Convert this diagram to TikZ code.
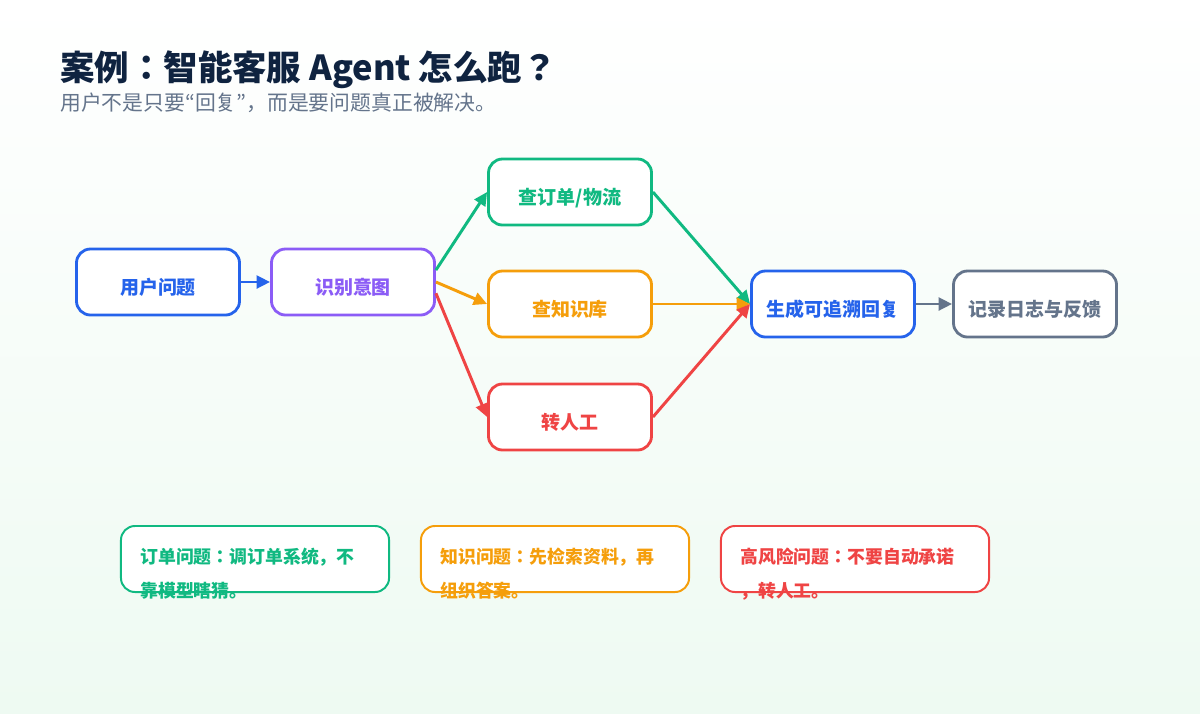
\documentclass[tikz,border=0pt]{standalone}
\usepackage{fontspec}
\setmainfont{Noto Sans CJK JP}
\usetikzlibrary{shapes,arrows.meta,positioning}

\definecolor{titlenavy}{HTML}{0F2340}
\definecolor{subgray}{HTML}{64748B}
\definecolor{flowblue}{HTML}{2563EB}
\definecolor{flowpurple}{HTML}{8B5CF6}
\definecolor{flowgreen}{HTML}{10B981}
\definecolor{floworange}{HTML}{F59E0B}
\definecolor{flowred}{HTML}{EF4444}
\definecolor{flowgray}{HTML}{64748B}
\definecolor{bgbottom}{HTML}{EEFAF2}

\begin{document}
\begin{tikzpicture}[x=0.025cm, y=-0.025cm,
  flowbox/.style={rectangle, draw=#1, text=#1, fill=white, line width=2pt,
    rounded corners=0.35cm, minimum width=4.075cm, minimum height=1.65cm,
    text height=17.6pt, text depth=0pt,
    font=\fontsize{13.5}{16}\selectfont\bfseries},
  notebox/.style={rectangle, draw=#1, fill=white, line width=1.4pt,
    rounded corners=0.35cm, minimum width=6.7cm, minimum height=1.65cm},
  notetext/.style={text=#1, anchor=north west, inner sep=0pt, align=left,
    font=\fontsize{12.7}{24}\selectfont\bfseries},
  flow/.style={draw=#1, line width=2.1pt, -{Triangle[length=9.5pt,width=9pt]}}]
\useasboundingbox (0,0) rectangle (1200,713);
\shade[top color=white, bottom color=bgbottom] (0,0) rectangle (1200,713);

% Title
\node[anchor=base west, inner sep=0pt, text=titlenavy,
  font=\fontsize{24.5}{28}\selectfont\bfseries] (title) at (60,80)
  {案例：智能客服 Agent 怎么跑？};
\node[anchor=base west, inner sep=0pt, text=subgray,
  font=\fontsize{14.8}{17}\selectfont] (subtitle) at (60,110)
  {用户不是只要“回复”，而是要问题真正被解决。};

% Flow
\node[flowbox=flowblue] (question) at (158,282) {用户问题};
\node[flowbox=flowpurple] (intent) at (353,282) {识别意图};
\node[flowbox=flowgreen] (order) at (570,192) {查订单/物流};
\node[flowbox=floworange] (kb) at (570,304) {查知识库};
\node[flowbox=flowred] (human) at (570,417) {转人工};
\node[flowbox=flowblue] (reply) at (833,304) {生成可追溯回复};
\node[flowbox=flowgray] (log) at (1035,304) {记录日志与反馈};

\draw[flow=flowblue] (question) -- (intent);
\draw[flow=flowgreen] ([yshift=8.5pt]intent.east) -- (order.west);
\draw[flow=floworange] (intent.east) -- (kb.west);
\draw[flow=flowred] ([yshift=-8pt]intent.east) -- (human.west);
\draw[flow=flowgreen] (order.east) -- (reply.west);
\draw[flow=floworange] (kb.east) -- (reply.west);
\draw[flow=flowred] (human.east) -- (reply.west);
\draw[flow=flowgray] (reply) -- (log);

% Notes
\node[notebox=flowgreen] (ordernote) at (255,559) {};
\node[notebox=floworange] (kbnote) at (555,559) {};
\node[notebox=flowred] (risknote) at (855,559) {};

\node[notetext=flowgreen] (ordertext) at (140,548)
  {订单问题：调订单系统，不\\靠模型瞎猜。};
\node[notetext=floworange] (kbtext) at (440,548)
  {知识问题：先检索资料，再\\组织答案。};
\node[notetext=flowred] (risktext) at (740,548)
  {高风险问题：不要自动承诺\\，转人工。};
\end{tikzpicture}
\end{document}
